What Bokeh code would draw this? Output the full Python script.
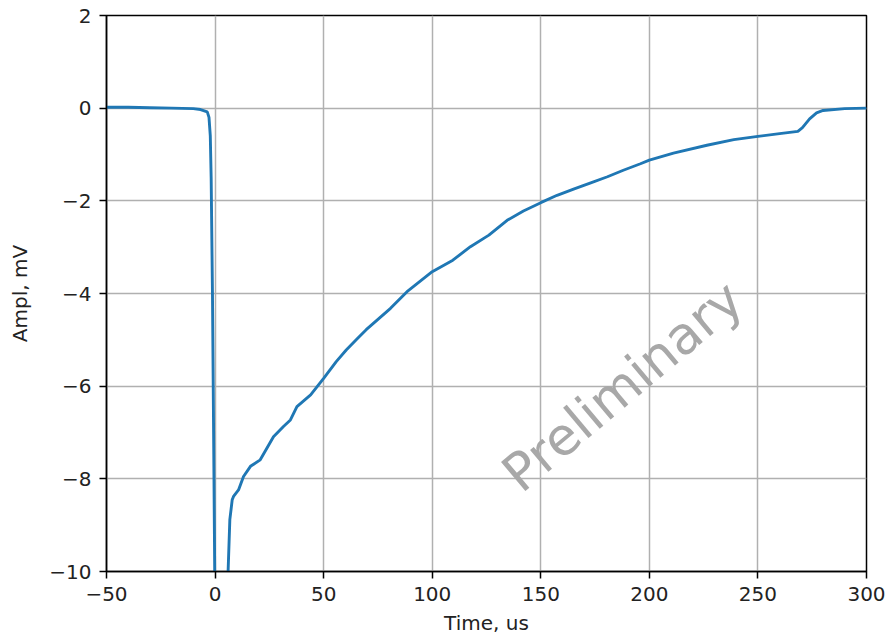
from bokeh.plotting import figure
from bokeh.models import FixedTicker, Range1d
from bokeh.core.properties import value
from bokeh.embed import file_html
from bokeh.resources import INLINE

# Data
time_us = [-50, -40, -30, -20, -10, -6.7, -3.6, -2.8, -2.2, -1.8, -1.2, -0.5, 0, 3,
           6.0, 6.8, 7.9, 8.5, 10.8, 13.1, 16.3, 20.8, 26.9, 31.5, 34.7, 37.7, 44, 50,
           55.8, 60.4, 65, 69.6, 80.8, 88.4, 100, 109.5, 117.6, 126.1, 134.5, 142, 150,
           157.5, 165.4, 173, 180.7, 188, 195.9, 200, 211.1, 226.5, 238.9, 250, 260,
           268.4, 270.5, 273.8, 277, 280, 290, 300]
ampl_mV = [0.02, 0.02, 0.01, 0.0, -0.01, -0.03, -0.08, -0.2, -0.6, -1.5, -4, -8, -11, -14,
           -10.0, -8.88, -8.45, -8.38, -8.24, -7.95, -7.73, -7.59, -7.09, -6.87, -6.73, -6.44, -6.19, -5.83,
           -5.47, -5.22, -5.0, -4.78, -4.32, -3.96, -3.53, -3.28, -2.99, -2.74, -2.42, -2.22, -2.04,
           -1.88, -1.74, -1.61, -1.48, -1.34, -1.20, -1.12, -0.97, -0.80, -0.68, -0.61, -0.55,
           -0.50, -0.42, -0.23, -0.10, -0.05, -0.01, 0.0]

x_ticks = [-50, 0, 50, 100, 150, 200, 250, 300]
x_tick_labels = ["\u221250", "0", "50", "100", "150", "200", "250", "300"]
y_ticks = [-10, -8, -6, -4, -2, 0, 2]
y_tick_labels = ["\u221210", "\u22128", "\u22126", "\u22124", "\u22122", "0", "2"]

x_label = "Time, us"
y_label = "Ampl, mV"
watermark = "Preliminary"
watermark_pos = (187.6, -6.0)

FONT = "DejaVu Sans"
FS = "20px"

p = figure(width=888, height=637, output_backend="svg", toolbar_location=None,
           x_range=Range1d(-50, 300), y_range=Range1d(-10, 2),
           min_border_left=106, min_border_right=22, min_border_top=15, min_border_bottom=65)
p.background_fill_color = "white"
p.border_fill_color = "white"
p.outline_line_color = "black"
p.outline_line_width = 1.5
p.outline_line_alpha = 1.0

p.grid.grid_line_color = "#b0b0b0"
p.grid.grid_line_width = 1.5
p.grid.grid_line_alpha = 1.0

p.xaxis.ticker = FixedTicker(ticks=x_ticks)
p.yaxis.ticker = FixedTicker(ticks=y_ticks)
p.xaxis.major_label_overrides = dict(zip(x_ticks, x_tick_labels))
p.yaxis.major_label_overrides = dict(zip(y_ticks, y_tick_labels))

for ax in (p.xaxis, p.yaxis):
    ax.axis_line_color = "black"
    ax.axis_line_width = 1.5
    ax.major_tick_line_color = "black"
    ax.major_tick_line_width = 1.5
    ax.major_tick_out = 7
    ax.major_tick_in = 0
    ax.minor_tick_line_color = None
    ax.major_label_text_font = FONT
    ax.major_label_text_font_size = FS
    ax.major_label_text_color = "#222222"
    ax.axis_label_text_font = FONT
    ax.axis_label_text_font_size = FS
    ax.axis_label_text_font_style = "normal"
    ax.axis_label_text_color = "#222222"
    ax.major_label_standoff = 8

p.xaxis.axis_label = x_label
p.yaxis.axis_label = y_label
p.xaxis.axis_label_standoff = 7
p.yaxis.axis_label_standoff = 14

p.line(time_us, ampl_mV, line_color="#1f77b4", line_width=2.9)

p.text(x=[watermark_pos[0]], y=[watermark_pos[1]], text=[watermark],
       angle=40, angle_units="deg", text_font=value(FONT), text_font_size="52px",
       text_color="#a8a8a8", text_align="center", text_baseline="middle")

open("out.html", "w").write(file_html(p, INLINE))
